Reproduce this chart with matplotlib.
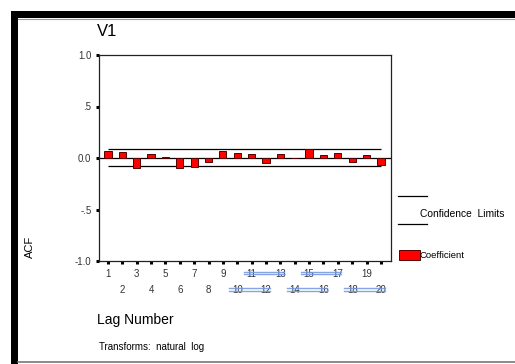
import matplotlib.pyplot as plt
import matplotlib.transforms as mtransforms
import numpy as np

plt.rcParams['font.family'] = ['Liberation Sans', 'DejaVu Sans']

# ACF coefficients
lags = np.arange(1, 21)
acf = [0.07, 0.06, -0.10, 0.035, 0.005, -0.10, -0.085, -0.035, 0.065, 0.05,
       0.04, -0.045, 0.04, 0.002, 0.087, 0.03, 0.05, -0.035, 0.03, -0.065]
conf_upper = 0.092
conf_lower = -0.082
y_ticks = [-1.0, -0.5, 0.0, 0.5, 1.0]
y_labels = ['-1.0', '-.5', '0.0', '.5', '1.0']
# pairs of tick labels crossed by the blue marks
blue_row1 = [(11, 13), (15, 17)]
blue_row2 = [(10, 12), (14, 16), (18, 20)]

W, H = 515, 364
fig = plt.figure(figsize=(W / 100, H / 100), dpi=100)

# frame decorations
fig.add_artist(plt.Rectangle((11 / W, 1 - 18 / H), 1, 7 / H, transform=fig.transFigure,
                             color='black', lw=0))
fig.add_artist(plt.Rectangle((11 / W, 0), 7 / W, 1 - 11 / H, transform=fig.transFigure,
                             color='black', lw=0))
fig.add_artist(plt.Line2D([18 / W, 1], [1 - 18.5 / H] * 2, transform=fig.transFigure,
                          color='#999999', lw=0.8))
fig.add_artist(plt.Line2D([18 / W, 1], [1 - 361.5 / H] * 2, transform=fig.transFigure,
                          color='#777777', lw=1.2))

ax = fig.add_axes([99 / W, 1 - 261 / H, 292 / W, 206 / H])
ax.bar(lags, acf, width=0.5, color='#ff0000', edgecolor='#550000', linewidth=0.7, zorder=3)
ax.axhline(0, color='black', lw=0.9, zorder=2)
ax.hlines([conf_upper, conf_lower], 1, 20, color='black', lw=0.9, zorder=2)

ax.set_xlim(0.38, 20.7)
ax.set_ylim(-1.0, 1.0)
ax.set_yticks(y_ticks)
ax.set_yticklabels(y_labels)

odd = lags[lags % 2 == 1]
even = lags[lags % 2 == 0]
ax.set_xticks(odd)
ax.set_xticklabels([str(v) for v in odd])
ax.set_xticks(even, minor=True)
ax.set_xticklabels([str(v) for v in even], minor=True)
ax.tick_params(axis='x', which='major', length=2, width=2.2, pad=3.6,
               labelsize=7, labelcolor='#333333')
ax.tick_params(axis='x', which='minor', length=2, width=2.2, pad=15,
               labelsize=7, labelcolor='#333333')
ax.tick_params(axis='y', length=2, width=2.2, pad=3.5, labelsize=7, labelcolor='#333333')
for s in ax.spines.values():
    s.set_linewidth(0.9)
    s.set_color('#222222')

# blue marks across some tick labels
trans = mtransforms.blended_transform_factory(ax.transData, ax.transAxes)
for pairs, ys in [(blue_row1, (-0.053, -0.063)), (blue_row2, (-0.131, -0.146))]:
    for a, b in pairs:
        for yy in ys:
            ax.plot([a - 0.55, b + 0.25], [yy, yy], transform=trans, clip_on=False,
                    color='#6f95e0', lw=1.0, alpha=0.85)

fig.text(97 / W, 1 - 32 / H, 'V1', fontsize=12, va='center', ha='left')
fig.text(30 / W, 1 - 247 / H, 'ACF', fontsize=8, rotation=90, va='center', ha='center')
fig.text(97 / W, 1 - 320 / H, 'Lag Number', fontsize=10, va='center', ha='left')
fig.text(99 / W, 1 - 347 / H, 'Transforms:  natural  log', fontsize=7, va='center', ha='left')

# legend drawn by hand, as in the original output
fig.add_artist(plt.Line2D([398 / W, 427 / W], [1 - 196 / H] * 2, transform=fig.transFigure,
                          color='black', lw=0.9))
fig.add_artist(plt.Line2D([398 / W, 427 / W], [1 - 224 / H] * 2, transform=fig.transFigure,
                          color='black', lw=0.9))
fig.text(420 / W, 1 - 214 / H, 'Confidence  Limits', fontsize=7.4, va='center', ha='left')
fig.add_artist(plt.Rectangle((399 / W, 1 - 260 / H), 21 / W, 10 / H, transform=fig.transFigure,
                             facecolor='#ff0000', edgecolor='#550000', lw=0.7))
fig.text(420 / W, 1 - 256 / H, 'Coefficient', fontsize=6.8, va='center', ha='left')

fig.savefig('out.png', dpi=100)
